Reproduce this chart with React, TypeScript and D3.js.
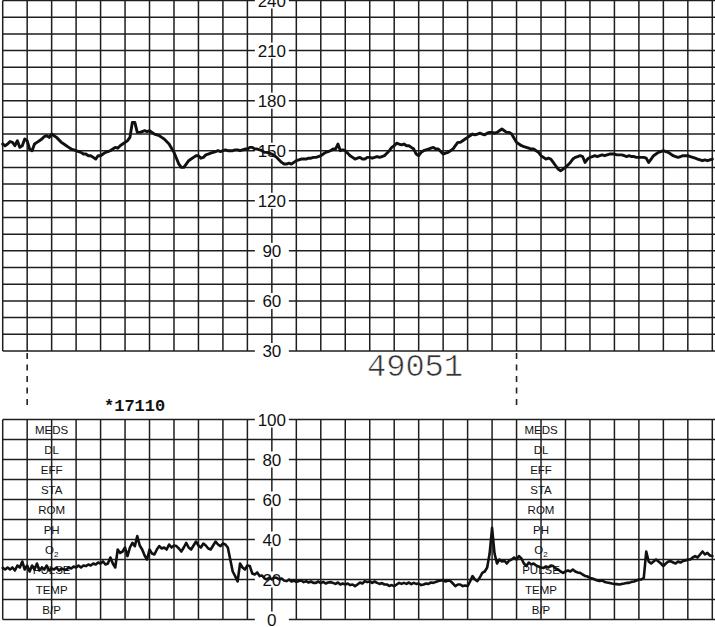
import React from 'react';
import * as d3 from 'd3';

// Fetal heart rate (bpm), one sample per second, 0..290 s
const fhr: number[] = [
154,153,154,155.5,155,153,156,152,153,157,
156,151,150,154,155,156,157,158.5,159,158,
160,159,158,156.5,155,154,153,152,151,150.5,
150,149.5,149,148,148,147,147,146,145,147,
147,148,149,149.5,150,151,152,151.5,153,154,
155,156,158,167,167,161,161,161.5,162,161.5,
162,161,160,159.5,159,158,157,155.5,154,151.5,
149,145.5,142,140,140,142,144,145,146,147,
147,145.5,146,147.5,148,148.5,149,149.5,150,149.5,
150,150.5,150,150,150,150.5,150.5,150,150.5,151,
151,152,152,151,151,150.5,150,149,149,148.5,
148,147,146,144.5,143,142,142,142.5,142,143,
144,144.5,145,145,145,145.5,145.5,146,146,146.5,
147,148,149,149.5,150,151,151,154,150,150.5,
150,148.5,147,146,145,145.5,146,145,145,146,
146,145.5,146,146.5,146,146.5,147,148.5,150,152,
153,154.5,154,153.5,154,153,153,152,151,148,
147,149,150,150.5,151,151.5,152,151,151,149.5,
148,148.5,149,150,151,153,155,155,156,157,
158,159,160,159.5,160,160.5,160,159.5,160.5,161,
161,160.5,161,162,163,162,161,161,160,157.5,
155,154,153,152.5,152,151.5,151,151,150,149,
147,146,145,145.5,145,143,141,139,138,139,
140,141.5,143,145,146,146.5,147,146.5,143,145,
146,146.5,147,146.5,147,147.5,147,147.5,148,148,
148,147.5,147.5,147.5,147,146.5,147,146.5,146.5,146,
146,146,146,145.5,143,145,147,148,149,149.5,
150,149.5,149,148,147,146.5,146,146.5,147,147,
147,146.5,146,145.5,145,144.5,144,144.5,144,144.5,
145
];

// Uterine activity (mmHg), one sample per second, 0..290 s
const uc: number[] = [
25.8,25,26,25,26,24.5,27,26,29,25,
27,24,27,25,28,24.5,26,25,27,24.5,
25.5,25,26,24.5,25.5,25,25,26,25.5,26.5,
26,27,26,27,26.7,27.5,27,28,27.5,28.5,
28,29,27.5,28,31,28,26,35,33.3,34,
36,31.7,36,38.3,36.7,41.7,37,35,32,30,
35,33,32.5,35,36.7,35.5,36,35,37.5,36,
37,36.7,35.5,34,36,38.3,36,35,37,39,
37,36,38,37,35.5,35,37,39,37.5,36.7,
38,37.5,36,30,24,21.7,19,28,26,25,
27,26.7,23,22.5,23.5,21.7,22,20.5,20,21,
20,21,20.8,20,20.5,19.5,19.2,20,19,19.5,
18.8,19.2,19.5,18.7,19.2,18.5,19,18.3,18.3,19,
18.2,18.8,18,18.5,18.7,18.3,17.8,18.5,17.5,18,
17.5,18,17.2,17.5,16.7,17.5,18.5,18,19.2,18.7,
19,18.3,19,18.3,17.8,18.2,17.5,17.5,16.8,17.2,
16.7,17.5,18.3,17.8,18.3,17.8,18.5,17.7,18.3,17.8,
18,17.2,17.5,18,17.8,18.5,18.3,18.8,19.2,19.5,
19.7,19,19.5,19.2,18,16.7,17.5,17.5,16.7,17,
16.7,19,21.7,20,19.2,21,23.3,24,26,33,
45.8,33,28,30,29,29.5,28,29.5,30,31,
30,31.7,30.5,28,26.7,28.5,27.5,28,27,26.5,
26,25.8,26.5,26,27,26.7,25.5,25,24,23.3,
24,24.5,24,25,24,23.5,23.3,22.5,21.8,21.5,
20.8,20.5,20,19.5,19.2,19.5,18.8,18.5,18.3,18,
17.8,17.7,17.5,17.8,18,18.3,18.3,18.8,19,19.5,
20,20,20.8,34,29,28,29,30,29,28,
26.7,28,29,29.2,28.5,28,29,28.5,29.2,29.5,
30,30,31,31.7,31,32.5,34,32.5,33.3,32,
31.7
];

const fhrTicks = [30, 60, 90, 120, 150, 180, 210, 240];
const ucTicks = [0, 20, 40, 60, 80, 100];
const rowLabels = ['MEDS', 'DL', 'EFF', 'STA', 'ROM', 'PH', 'O2', 'PULSE', 'TEMP', 'B/P'];
const labelColumnsSec = [20, 220];
const markerSec = [10, 210];
const axisSec = 110;
const stripId = '*17110';
const pageId = '49051';

const W = 715;
const H = 627;
const GRID = '#1e1e1e';
const SANS = '"Liberation Sans", Arial, Helvetica, sans-serif';
const MONO = '"Liberation Mono", "Courier New", monospace';

export default function App() {
  const x = d3.scaleLinear().domain([0, 290]).range([2.7, 712.3]);
  const yTop = d3.scaleLinear().domain([30, 240]).range([351, 0.5]);
  const yBot = d3.scaleLinear().domain([0, 100]).range([619.5, 419.5]);

  const lineTop = d3.line<number>().x((_, i) => x(i)).y((d) => yTop(d)).curve(d3.curveLinear);
  const lineBot = d3.line<number>().x((_, i) => x(i)).y((d) => yBot(d)).curve(d3.curveLinear);

  const vCols = d3.range(0, 291, 10);
  const topRows = d3.range(30, 241, 10);
  const botRows = d3.range(0, 101, 10);
  const ax = x(axisSec);

  return (
    <svg width={W} height={H} style={{ position: 'absolute', left: 0, top: 0, background: '#fff' }}>
      <rect x={0} y={0} width={W} height={H} fill="#fff" />
      <g stroke={GRID} strokeWidth={1.5}>
        {vCols.map((s) => (
          <line key={'tv' + s} x1={x(s)} x2={x(s)} y1={yTop(240)} y2={yTop(30)} />
        ))}
        {topRows.map((v) => (
          <line key={'th' + v} x1={x(0)} x2={W} y1={yTop(v)} y2={yTop(v)} />
        ))}
        {vCols.map((s) => (
          <line key={'bv' + s} x1={x(s)} x2={x(s)} y1={yBot(100)} y2={yBot(0)} />
        ))}
        {botRows.map((v) => (
          <line key={'bh' + v} x1={x(0)} x2={W} y1={yBot(v)} y2={yBot(v)} />
        ))}
      </g>
      <g stroke="#222" strokeWidth={1.6} strokeDasharray="6 5.5">
        {markerSec.map((s) => (
          <line key={'m' + s} x1={x(s)} x2={x(s)} y1={yTop(30) + 2} y2={yBot(100) - 9} />
        ))}
      </g>
      <g fontFamily={SANS} fontSize={17} fill="#111" textAnchor="middle">
        {fhrTicks.map((v) => (
          <g key={'ft' + v}>
            <rect x={ax - 17} y={yTop(v) - 8} width={34} height={16} fill="#fff" />
            <text x={ax} y={yTop(v)} dy="0.36em">{v}</text>
          </g>
        ))}
        {ucTicks.map((v) => (
          <g key={'ut' + v}>
            <rect x={ax - 17} y={yBot(v) - 8} width={34} height={16} fill="#fff" />
            <text x={ax} y={yBot(v)} dy="0.36em">{v}</text>
          </g>
        ))}
      </g>
      <g fontFamily={SANS} fontSize={11.5} fill="#111" textAnchor="middle">
        {labelColumnsSec.map((s) =>
          rowLabels.map((lab, i) => (
            <text key={s + lab} x={x(s)} y={yBot(95 - i * 10)} dy="0.36em">
              {lab === 'O2' ? (
                <>
                  O<tspan fontSize={8} dy="3">2</tspan>
                </>
              ) : (
                lab
              )}
            </text>
          ))
        )}
      </g>
      <text x={104} y={411} fontFamily={MONO} fontWeight="bold" fontSize={17} fill="#111">
        {stripId}
      </text>
      <text x={367} y={376} fontFamily={MONO} fontSize={32} fill="#333" stroke="#fff" strokeWidth={0.6}>
        {pageId}
      </text>
      <path d={lineTop(fhr) || ''} fill="none" stroke="#111" strokeWidth={2.9} strokeLinejoin="round" strokeLinecap="round" />
      <path d={lineBot(uc) || ''} fill="none" stroke="#111" strokeWidth={2.6} strokeLinejoin="round" strokeLinecap="round" />
    </svg>
  );
}
